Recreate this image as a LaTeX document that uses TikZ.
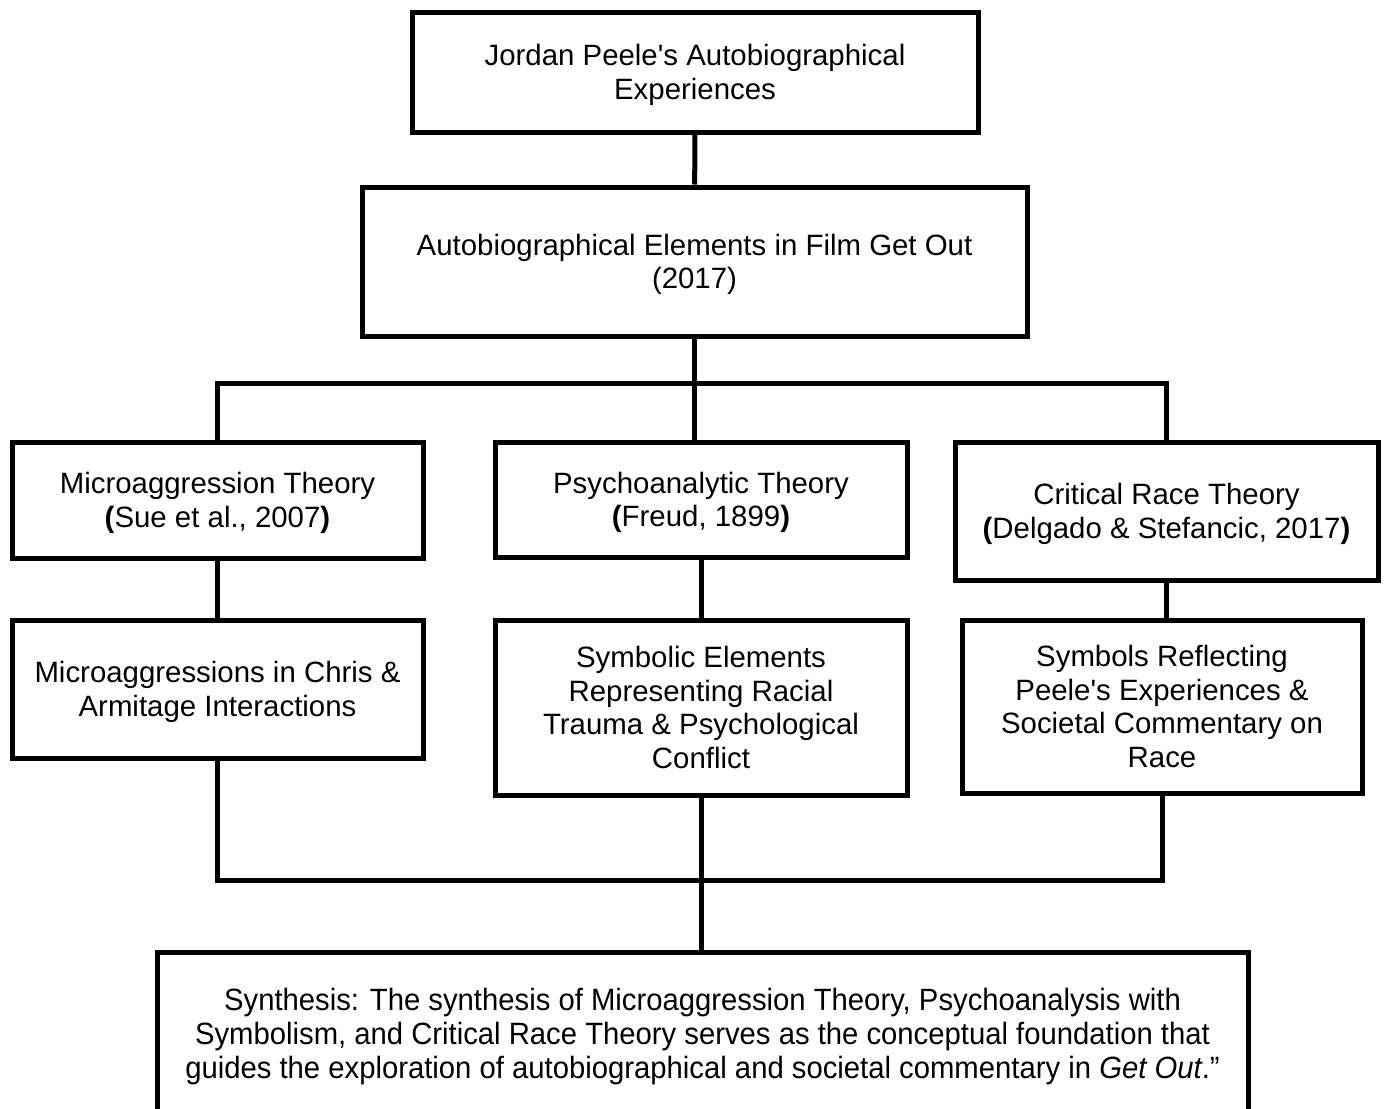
\documentclass[tikz,border=0pt]{standalone}
\usepackage{fontspec}
\setmainfont{Liberation Sans}[Ligatures=TeXOff]
\newfontfamily\narrowfont{Liberation Sans}[Ligatures=TeXOff, FakeStretch=0.95]
\usetikzlibrary{positioning,calc}

\begin{document}
\begin{tikzpicture}[
  x=0.5pt, y=-0.5pt,
  every node/.style={font=\fontsize{14.7pt}{16.8pt}\selectfont},
  box/.style={rectangle, draw, line width=2.5pt, align=center, inner sep=0pt, text depth=0pt},
  link/.style={line width=2.5pt},
  synthfont/.style={font=\fontsize{15.4pt}{17pt}\selectfont\narrowfont}
]
\useasboundingbox (0,0) rectangle (1386,1108);

% top of the tree
\node[box, minimum width=283pt, minimum height=60pt] (peele) at (695,72)
  {Jordan Peele's Autobiographical\\Experiences};
\node[box, minimum width=332.5pt, minimum height=74.5pt] (film) at (694.5,261.5)
  {Autobiographical Elements in Film Get Out\\(2017)};

% theories
\node[box, minimum width=205.5pt, minimum height=58pt] (micro) at (217.5,500)
  {Microaggression Theory\\\textbf{(}Sue et al., 2007\textbf{)}};
\node[box, minimum width=206pt, minimum height=57.5pt] (psycho) at (701,499.5)
  {Psychoanalytic Theory\\\textbf{(}Freud, 1899\textbf{)}};
\node[box, minimum width=211.5pt, minimum height=69pt] (crt) at (1166.5,511)
  {Critical Race Theory\\\textbf{(}Delgado \& Stefancic, 2017\textbf{)}};

% what each theory points to in the film
\node[box, minimum width=205.5pt, minimum height=69pt] (micro2) at (217.5,689)
  {Microaggressions in Chris \&\\Armitage Interactions};
\node[box, minimum width=206pt, minimum height=87.5pt] (sym) at (701,707.5)
  {Symbolic Elements\\Representing Racial\\Trauma \& Psychological\\Conflict};
\node[box, minimum width=200pt, minimum height=86.5pt] (crt2) at (1162,706.5)
  {Symbols Reflecting\\Peele's Experiences \&\\Societal Commentary on\\Race};

% synthesis (runs off the page at the bottom)
\node[box, synthfont, minimum width=545.5pt, minimum height=81.5pt] (synth) at (702.5,1033.5)
  {Synthesis: The synthesis of Microaggression Theory, Psychoanalysis with\\
   Symbolism, and Critical Race Theory serves as the conceptual foundation that\\
   guides the exploration of autobiographical and societal commentary in \textit{Get Out}.”};

\coordinate (bustop) at (0,383);
\coordinate (busbot) at (0,880);

\draw[link] (peele) -- (film);
\draw[link] (film.south) -- (film.south |- psycho.north);
\draw[link] (micro.north) |- (crt.north |- bustop) -- (crt.north);

\foreach \a/\b in {micro/micro2, psycho/sym, crt/crt2}
  \draw[link] (\a.south) -- (\a.south |- \b.north);

\draw[link] (micro2.south) |- (crt2.south |- busbot) -- (crt2.south);
\draw[link] (sym.south) -- (sym.south |- synth.north);
\end{tikzpicture}
\end{document}
